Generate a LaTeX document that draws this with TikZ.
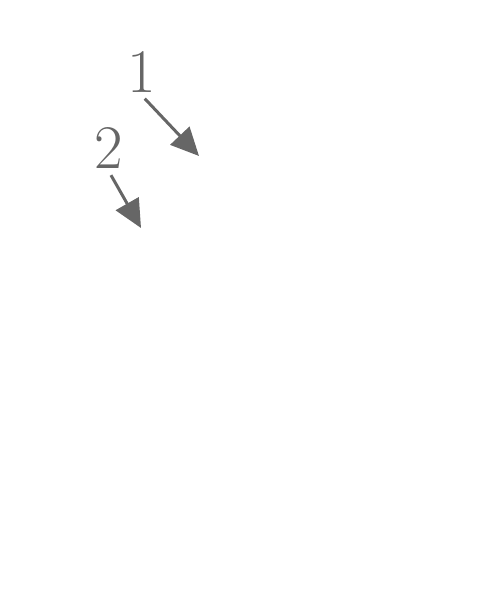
\documentclass[tikz,border=0pt]{standalone}
\usetikzlibrary{arrows.meta}
\definecolor{markgray}{HTML}{666666}
\begin{document}
\begin{tikzpicture}[x=1pt,y=1pt,
  numlabel/.style={text=markgray,inner sep=3pt,font=\fontsize{62}{62}\selectfont},
  pointer/.style={draw=markgray,line width=3pt,-{Triangle[length=28pt,width=26pt]},shorten <=4pt}]
  \useasboundingbox (0,0) rectangle (480,-591);
  \node[numlabel] (n1) at (142,-72) {1};
  \node[numlabel] (n2) at (109,-148) {2};
  \coordinate (e1) at (199,-156);
  \coordinate (e2) at (141,-228);
  \draw[pointer] (n1.south) -- (e1);
  \draw[pointer] (n2.south) -- (e2);
\end{tikzpicture}
\end{document}
